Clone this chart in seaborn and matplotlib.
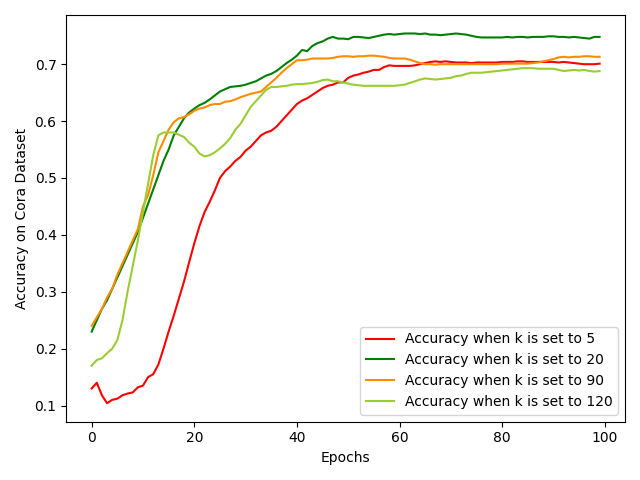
import matplotlib
matplotlib.use("Agg")
import matplotlib.pyplot as plt
import numpy as np
import pandas as pd
import seaborn as sns

epochs = list(range(100))

acc_k5 = [
    0.130, 0.140, 0.118, 0.104, 0.110, 0.112, 0.118, 0.121, 0.123, 0.132,
    0.135, 0.150, 0.155, 0.172, 0.200, 0.230, 0.258, 0.288, 0.318, 0.352,
    0.385, 0.415, 0.440, 0.458, 0.478, 0.500, 0.512, 0.520, 0.530, 0.537,
    0.548, 0.555, 0.565, 0.575, 0.580, 0.583, 0.590, 0.600, 0.610, 0.620,
    0.630, 0.636, 0.640, 0.646, 0.652, 0.658, 0.662, 0.664, 0.668, 0.668,
    0.676, 0.680, 0.682, 0.685, 0.687, 0.690, 0.690, 0.695, 0.698, 0.697,
    0.697, 0.697, 0.697, 0.698, 0.700, 0.702, 0.704, 0.705, 0.704, 0.705,
    0.704, 0.703, 0.703, 0.703, 0.702, 0.703, 0.703, 0.703, 0.703, 0.703,
    0.704, 0.704, 0.704, 0.705, 0.705, 0.704, 0.704, 0.704, 0.704, 0.704,
    0.704, 0.703, 0.704, 0.703, 0.702, 0.701, 0.700, 0.700, 0.700, 0.701,
]
acc_k20 = [
    0.230, 0.250, 0.270, 0.285, 0.305, 0.325, 0.345, 0.365, 0.385, 0.405,
    0.430, 0.455, 0.480, 0.505, 0.530, 0.550, 0.575, 0.590, 0.605, 0.615,
    0.622, 0.628, 0.632, 0.638, 0.645, 0.652, 0.656, 0.660, 0.661, 0.662,
    0.664, 0.667, 0.670, 0.675, 0.680, 0.683, 0.688, 0.695, 0.702, 0.708,
    0.715, 0.725, 0.723, 0.732, 0.737, 0.740, 0.745, 0.748, 0.745, 0.745,
    0.744, 0.748, 0.748, 0.747, 0.746, 0.748, 0.750, 0.752, 0.753, 0.752,
    0.753, 0.754, 0.754, 0.754, 0.753, 0.754, 0.752, 0.752, 0.751, 0.752,
    0.753, 0.754, 0.753, 0.752, 0.750, 0.748, 0.747, 0.747, 0.747, 0.747,
    0.747, 0.748, 0.747, 0.748, 0.748, 0.747, 0.748, 0.748, 0.748, 0.749,
    0.749, 0.748, 0.748, 0.747, 0.748, 0.747, 0.746, 0.745, 0.748, 0.748,
]
acc_k90 = [
    0.240, 0.255, 0.270, 0.290, 0.305, 0.330, 0.350, 0.370, 0.390, 0.410,
    0.450, 0.470, 0.505, 0.545, 0.565, 0.585, 0.598, 0.605, 0.607, 0.612,
    0.618, 0.622, 0.624, 0.628, 0.630, 0.630, 0.634, 0.635, 0.638, 0.642,
    0.645, 0.648, 0.650, 0.652, 0.660, 0.668, 0.676, 0.685, 0.693, 0.700,
    0.707, 0.707, 0.708, 0.710, 0.710, 0.710, 0.710, 0.711, 0.713, 0.714,
    0.714, 0.713, 0.714, 0.714, 0.715, 0.715, 0.714, 0.713, 0.711, 0.710,
    0.710, 0.710, 0.708, 0.705, 0.702, 0.700, 0.700, 0.699, 0.700, 0.700,
    0.700, 0.700, 0.700, 0.700, 0.700, 0.700, 0.700, 0.700, 0.700, 0.700,
    0.701, 0.701, 0.701, 0.701, 0.701, 0.701, 0.702, 0.703, 0.705, 0.707,
    0.709, 0.712, 0.713, 0.712, 0.713, 0.713, 0.714, 0.714, 0.713, 0.713,
]
acc_k120 = [
    0.170, 0.180, 0.183, 0.192, 0.200, 0.215, 0.250, 0.300, 0.345, 0.390,
    0.440, 0.490, 0.540, 0.575, 0.580, 0.580, 0.580, 0.576, 0.572, 0.562,
    0.555, 0.543, 0.538, 0.540, 0.545, 0.552, 0.560, 0.570, 0.585, 0.595,
    0.610, 0.625, 0.635, 0.645, 0.655, 0.660, 0.660, 0.661, 0.662, 0.664,
    0.665, 0.665, 0.666, 0.667, 0.669, 0.672, 0.673, 0.670, 0.670, 0.668,
    0.666, 0.664, 0.663, 0.662, 0.662, 0.662, 0.662, 0.662, 0.662, 0.662,
    0.663, 0.664, 0.667, 0.670, 0.673, 0.675, 0.674, 0.673, 0.674, 0.675,
    0.676, 0.679, 0.680, 0.683, 0.685, 0.685, 0.685, 0.686, 0.687, 0.688,
    0.689, 0.690, 0.691, 0.692, 0.693, 0.693, 0.693, 0.692, 0.692, 0.692,
    0.692, 0.690, 0.688, 0.689, 0.690, 0.689, 0.690, 0.688, 0.687, 0.688,
]

labels = [
    "Accuracy when k is set to 5",
    "Accuracy when k is set to 20",
    "Accuracy when k is set to 90",
    "Accuracy when k is set to 120",
]
colors = ["red", "green", "darkorange", "yellowgreen"]

df = pd.concat(
    [
        pd.DataFrame({"epoch": epochs, "acc": vals, "setting": lab})
        for vals, lab in zip([acc_k5, acc_k20, acc_k90, acc_k120], labels)
    ],
    ignore_index=True,
)

fig, ax = plt.subplots(figsize=(6.4, 4.8), dpi=100)
sns.lineplot(
    data=df, x="epoch", y="acc", hue="setting",
    hue_order=labels, palette=colors, ax=ax,
)
ax.set_xlabel("Epochs")
ax.set_ylabel("Accuracy on Cora Dataset")
ax.legend(loc="lower right")

plt.tight_layout()
plt.savefig("out.png")
